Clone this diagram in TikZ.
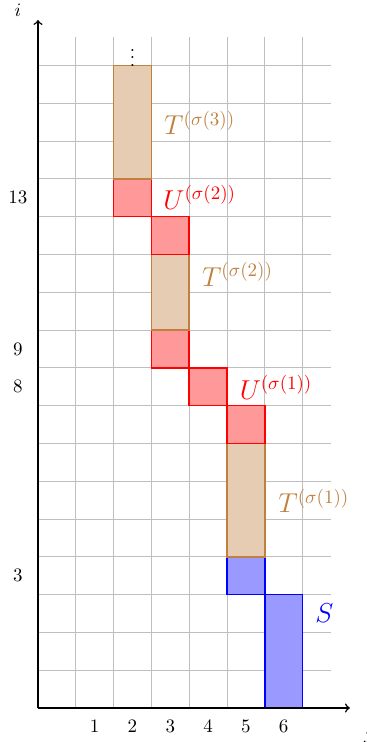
\documentclass[tikz,border=0pt]{standalone}
\begin{document}
\begin{tikzpicture}[scale=0.7,
  gridline/.style={gray!50, line width=0.4pt},
  axisline/.style={thick, ->},
  tblk/.style={draw=brown, fill=brown!40, thick},
  ublk/.style={draw=red, fill=red!40, thick},
  sblk/.style={draw=blue, fill=blue!40, thick},
  lbl/.style={anchor=base west, inner sep=0pt, font=\Large},
  tick/.style={inner sep=0pt}]
\useasboundingbox (-1.005,-0.90) rectangle (8.70,18.73);
% grid
\draw[gridline] (0,0) grid (7.75,17.75);
% blocks
\draw[sblk] (6,0) rectangle (7,3);
\draw[sblk] (5,3) rectangle (6,4);
\draw[tblk] (5,4) rectangle (6,7);
\draw[ublk] (5,7) rectangle (6,8);
\draw[ublk] (4,8) rectangle (5,9);
\draw[ublk] (3,9) rectangle (4,10);
\draw[tblk] (3,10) rectangle (4,12);
\draw[ublk] (3,12) rectangle (4,13);
\draw[ublk] (2,13) rectangle (3,14);
\draw[tblk] (2,14) rectangle (3,17);
% axes
\coordinate (O) at (0,0);
\coordinate (xe) at (8.25,0);
\coordinate (ye) at (0,18.2);
\draw[axisline] (O) -- (xe);
\draw[axisline] (O) -- (ye);
\node (ilbl) at (-0.53,18.47) {$i$};
\node[anchor=west, inner sep=0pt] (jlbl) at (8.62,-0.72) {$j$};
% tick labels
\foreach \k in {1,...,6} \node[tick] (x\k) at (\k+0.5,-0.5) {$\k$};
\foreach \k in {3,8,9,13} \node[tick] (y\k) at (-0.53,\k+0.5) {$\k$};
\node (dots) at (2.5,17.35) {$\vdots$};
% block labels
\node[lbl, text=brown] (t3) at (3.33,15.16) {$T^{(\sigma(3))}$};
\node[lbl, text=red] (u2) at (3.31,13.2) {$U^{(\sigma(2))}$};
\node[lbl, text=brown] (t2) at (4.33,11.16) {$T^{(\sigma(2))}$};
\node[lbl, text=red] (u1) at (5.33,8.17) {$U^{(\sigma(1))}$};
\node[lbl, text=brown] (t1) at (6.35,5.16) {$T^{(\sigma(1))}$};
\node[lbl, text=blue] (s) at (7.33,2.25) {$S$};
\end{tikzpicture}
\end{document}
